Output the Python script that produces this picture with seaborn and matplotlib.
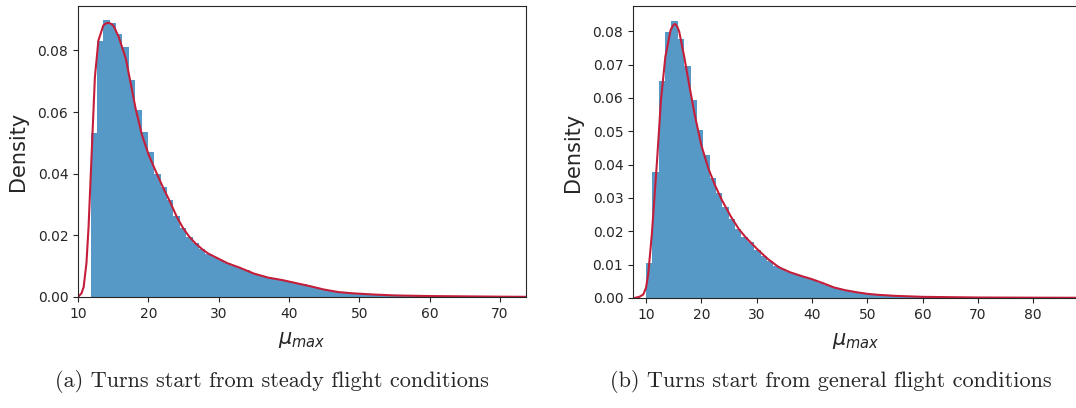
import numpy as np
import pandas as pd
import matplotlib
matplotlib.use("Agg")
import matplotlib.pyplot as plt
import seaborn as sns

# histogram of mu_max, turns from steady flight (density per bin)
LEFT_BIN_START = 11.8
LEFT_BIN_WIDTH = 0.905
left_density = [
    0.0533, 0.0832, 0.0897, 0.0888, 0.0854, 0.0811, 0.0703, 0.0605, 0.0535, 0.0470,
    0.0400, 0.0357, 0.0314, 0.0262, 0.0225, 0.0196, 0.0174, 0.0156, 0.0141, 0.0130,
    0.0119, 0.0110, 0.0102, 0.0095, 0.0086, 0.0078, 0.0071, 0.0065, 0.0061, 0.0057,
    0.0053, 0.0048, 0.0045, 0.0041, 0.0036, 0.0030, 0.0025, 0.0021, 0.0017, 0.0015,
    0.0013, 0.0011, 0.0010, 0.0009, 0.0008, 0.0007, 0.0006, 0.0005, 0.0005, 0.0004,
    0.0004, 0.0003, 0.0003, 0.0003, 0.0002, 0.0002, 0.0002, 0.0002, 0.0001, 0.0001,
    0.0001, 0.0001, 0.0001, 0.0001, 0.0001, 0.00005, 0.00005,
]
left_kde_x = [10.0, 10.5, 10.8, 11.2, 11.5, 12.0, 12.4, 12.9, 13.6, 14.0, 14.4, 14.8,
              15.1, 15.8, 16.8, 17.5, 18.2, 19.1, 20.1, 21.3, 22.2, 23.1, 24.0, 24.9,
              25.8, 26.7, 27.6, 28.5, 29.9, 31.3, 33.0, 35.0, 37.0, 39.0, 41.0, 43.0,
              45.0, 47.0, 49.0, 52.0, 55.0, 60.0, 65.0, 70.0, 73.7]
left_kde_y = [0.0, 0.0012, 0.0032, 0.0110, 0.0227, 0.0497, 0.0713, 0.0832, 0.0881, 0.0888,
              0.0889, 0.0885, 0.0878, 0.0843, 0.0773, 0.0692, 0.0610, 0.0525, 0.0458, 0.0395,
              0.0350, 0.0308, 0.0262, 0.0225, 0.0196, 0.0174, 0.0156, 0.0141, 0.0125, 0.0109,
              0.0095, 0.0076, 0.0063, 0.0055, 0.0045, 0.0035, 0.0024, 0.0016, 0.0012, 0.0008,
              0.0005, 0.0003, 0.0002, 0.0001, 0.00005]

# histogram of mu_max, turns from general flight conditions
RIGHT_BIN_START = 10.0
RIGHT_BIN_WIDTH = 1.15
right_density = [
    0.0104, 0.0377, 0.0650, 0.0797, 0.0832, 0.0777, 0.0697, 0.0593, 0.0503, 0.0430,
    0.0360, 0.0314, 0.0272, 0.0237, 0.0207, 0.0184, 0.0167, 0.0145, 0.0126, 0.0111,
    0.0096, 0.0086, 0.0077, 0.0071, 0.0065, 0.0059, 0.0053, 0.0046, 0.0039, 0.0032,
    0.0027, 0.0022, 0.0019, 0.0016, 0.0013, 0.0011, 0.0009, 0.0008, 0.0007, 0.0006,
    0.0005, 0.0004, 0.0004, 0.0003, 0.0003, 0.0002, 0.0002, 0.0002, 0.0001, 0.0001,
    0.0001, 0.0001, 0.0001, 0.0001, 0.0001, 0.0001, 0.0001, 0.00005, 0.00005, 0.00005,
    0.00005, 0.00005, 0.00005, 0.00005, 0.00005, 0.00005, 0.00005, 0.00005,
]
right_kde_x = [8.0, 8.8, 9.5, 10.0, 10.4, 11.05, 12.0, 12.7, 13.5, 14.45, 14.9, 15.2,
               15.6, 16.0, 16.9, 17.8, 18.8, 20.0, 21.3, 22.5, 23.7, 25.3, 26.8, 28.0,
               30.0, 32.0, 34.0, 36.0, 38.0, 40.0, 42.0, 44.0, 46.0, 48.0, 50.0, 52.0,
               55.0, 60.0, 65.0, 70.0, 80.0, 88.0]
right_kde_y = [0.0, 0.0003, 0.0010, 0.0030, 0.0071, 0.0190, 0.0413, 0.0593, 0.0724, 0.0804,
               0.0818, 0.0822, 0.0816, 0.0799, 0.0724, 0.0640, 0.0550, 0.0458, 0.0387, 0.0337,
               0.0294, 0.0245, 0.0206, 0.0182, 0.0148, 0.0117, 0.0092, 0.0077, 0.0066, 0.0056,
               0.0044, 0.0031, 0.0023, 0.0017, 0.0012, 0.0009, 0.0006, 0.0003, 0.0002, 0.0001,
               0.00005, 0.00002]

captions = ["(a) Turns start from steady flight conditions",
            "(b) Turns start from general flight conditions"]

sns.set_style("ticks")
plt.rcParams["font.family"] = ["DejaVu Sans"]

BAR_COLOR = "tab:blue"
LINE_COLOR = "#c41e3a"


def draw_panel(ax, start, width, density, kde_x, kde_y, xlim, ylim, yticks):
    n = len(density)
    centers = start + width * (np.arange(n) + 0.5)
    df = pd.DataFrame({"mu": centers, "density": density})
    sns.histplot(data=df, x="mu", weights="density", binwidth=width,
                 binrange=(start, start + width * n), stat="count",
                 color=BAR_COLOR, alpha=0.75, linewidth=0, ax=ax)
    sns.lineplot(x=kde_x, y=kde_y, color=LINE_COLOR, linewidth=1.5, ax=ax)
    ax.set_xlim(*xlim)
    ax.set_ylim(*ylim)
    ax.set_yticks(yticks)
    ax.set_yticklabels([f"{t:.2f}" for t in yticks])
    ax.set_ylabel("Density", fontsize=15, labelpad=7)
    ax.set_xlabel(r"$\mu_{max}$", fontsize=15, labelpad=7)
    ax.tick_params(labelsize=10)


fig = plt.figure(figsize=(10.76, 4.08), dpi=100)
ax1 = fig.add_axes([0.0725, 0.2721, 0.4164, 0.7132])
ax2 = fig.add_axes([0.5883, 0.2700, 0.4136, 0.7153])

draw_panel(ax1, LEFT_BIN_START, LEFT_BIN_WIDTH, left_density, left_kde_x, left_kde_y,
           (10, 73.7), (0, 0.0944), [0.0, 0.02, 0.04, 0.06, 0.08])
ax1.set_xticks([10, 20, 30, 40, 50, 60, 70])

draw_panel(ax2, RIGHT_BIN_START, RIGHT_BIN_WIDTH, right_density, right_kde_x, right_kde_y,
           (7.65, 88.1), (0, 0.0876), [0.0, 0.01, 0.02, 0.03, 0.04, 0.05, 0.06, 0.07, 0.08])
ax2.set_xticks([10, 20, 30, 40, 50, 60, 70, 80])

fig.text(0.253, 0.066, captions[0], ha="center", va="center", fontsize=16, family="cmr10")
fig.text(0.772, 0.066, captions[1], ha="center", va="center", fontsize=16, family="cmr10")

fig.savefig("out.png", dpi=100)
